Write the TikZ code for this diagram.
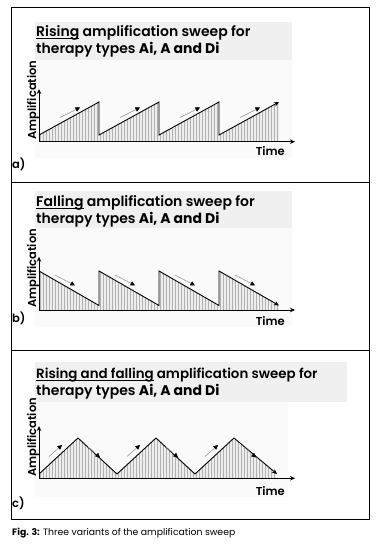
\documentclass[tikz,border=0pt]{standalone}
\usepackage{fontspec}
\IfFontExistsTF{Poppins SemiBold}
  {\setmainfont{Poppins}[UprightFont=* Medium, BoldFont=* SemiBold]
   \newfontfamily\headfont{Poppins}[UprightFont=* SemiBold, BoldFont=* Bold]}
  {\setmainfont{Poppins}
   \newfontfamily\headfont{Poppins}}
\newfontfamily\capfont{Poppins}
\usetikzlibrary{arrows.meta}

% underline with a rule of our own
\newcommand\ulword[1]{\setbox0\hbox{#1}\rlap{\rule[-2.4pt]{\wd0}{1pt}}\box0\relax}

\tikzset{
  frame/.style={line width=0.9pt},
  titlebg/.style={fill=black!6},
  plotbg/.style={fill=black!2},
  axis/.style={line width=0.9pt, -{Stealth[length=5pt, width=4.5pt]}},
  sweep/.style={line width=0.9pt, -{Stealth[length=5pt, width=4.5pt]}},
  hint/.style={black!45, line width=0.5pt, -{Triangle[black, length=4.5pt, width=4.5pt]}},
  hatchbg/.style={fill=black!7},
  hatch/.style={black!30, line width=0.9pt},
  title/.style={anchor=base west, inner sep=0pt, font=\headfont\fontsize{14}{16}\selectfont},
  ylab/.style={rotate=90, anchor=base, inner sep=0pt, font=\fontsize{11.5}{13}\selectfont\bfseries},
  xlab/.style={anchor=base east, inner sep=0pt, font=\fontsize{11.5}{13}\selectfont\bfseries},
  tag/.style={anchor=base west, inner sep=0pt, font=\fontsize{11.5}{13}\selectfont\bfseries}
}

\begin{document}
\begin{tikzpicture}[x=1pt, y=-1pt]
  \useasboundingbox (0,0) rectangle (380,546);
  \fill[white] (0,0) rectangle (380,546);
  % frames
  \draw[frame] (11,7) rectangle (369,519);
  \draw[frame] (11,182) -- (369,182);
  \draw[frame] (11,350) -- (369,350);

  % ---- a) rising ----
  \fill[plotbg] (35,60) rectangle (292,158);
  \fill[titlebg] (35,22) rectangle (292,60);
  \node[title] (ta1) at (36,36.7) {\ulword{Rising} amplification sweep for};
  \node[title] (ta2) at (36,53.3) {therapy types \textbf{Ai, A and Di}};
  \begin{scope}
    \clip (39,141.7) -- (39,135) -- (99,102) -- (99,135) -- (159,102) -- (159,135)
      -- (219,102) -- (219,135) -- (279,102) -- (279,141.7) -- cycle;
    \fill[hatchbg] (39,90) rectangle (280,142);
    \foreach \x in {40,43,...,280} \draw[hatch] (\x,90) -- (\x,142);
  \end{scope}
  \coordinate (Oa) at (39,141.7); %origin
  \coordinate (Ya) at (39,89); %y-axis top
  \coordinate (Xa) at (295,141.7); %x-axis end
  \draw[axis] (Oa) -- (Ya);
  \draw[axis] (Oa) -- (Xa);
  \draw[sweep] (39,135) -- (99,102) -- (99,135) -- (159,102) -- (159,135)
    -- (219,102) -- (219,135) -- (279,102);
  \foreach \k in {0,1,2,3}
    \draw[hint] ({60+60*\k},117.5) -- ({80+60*\k},107.5);
  \node[ylab] (ya) at (36,100) {Amplification};
  \node[xlab] (xa) at (285,155) {Time};
  \node[tag] (la) at (12,168) {a)};

  % ---- b) falling ----
  \fill[plotbg] (35,228) rectangle (292,327);
  \fill[titlebg] (35,191) rectangle (292,228);
  \node[title] (tb1) at (36,206.7) {\ulword{Falling} amplification sweep for};
  \node[title] (tb2) at (36,223.3) {therapy types \textbf{Ai, A and Di}};
  \begin{scope}
    \clip (39,310) -- (39,271) -- (99,305.5) -- (99,271) -- (159,305.5) -- (159,271)
      -- (219,305.5) -- (219,271) -- (279,305.5) -- (279,310) -- cycle;
    \fill[hatchbg] (39,260) rectangle (280,311);
    \foreach \x in {40,43,...,280} \draw[hatch] (\x,260) -- (\x,311);
  \end{scope}
  \coordinate (Ob) at (39,310); %origin
  \coordinate (Yb) at (39,256.7); %y-axis top
  \coordinate (Xb) at (295,310); %x-axis end
  \draw[axis] (Ob) -- (Yb);
  \draw[axis] (Ob) -- (Xb);
  \draw[sweep] (39,271) -- (99,305.5) -- (99,271) -- (159,305.5) -- (159,271)
    -- (219,305.5) -- (219,271) -- (279,305.5);
  \foreach \k in {0,1,2,3}
    \draw[hint] ({55+60*\k},275) -- ({75+60*\k},285.5);
  \node[ylab] (yb) at (36,268.5) {Amplification};
  \node[xlab] (xb) at (285,325) {Time};
  \node[tag] (lb) at (12,322) {b)};

  % ---- c) rising and falling ----
  \fill[plotbg] (35,402) rectangle (288,497);
  \fill[titlebg] (35,362) rectangle (347,402);
  \node[title, font=\headfont\fontsize{13.4}{16}\selectfont] (tc1) at (36,378.3)
    {\ulword{Rising and falling} amplification sweep for};
  \node[title] (tc2) at (36,395) {therapy types \textbf{Ai, A and Di}};
  \begin{scope}
    \clip (39,478.3) -- (39,474) -- (78,438) -- (117,474) -- (156,438) -- (195,474)
      -- (234,438) -- (276,474) -- (276,478.3) -- cycle;
    \fill[hatchbg] (39,430) rectangle (280,479);
    \foreach \x in {40,43,...,280} \draw[hatch] (\x,430) -- (\x,479);
  \end{scope}
  \coordinate (Oc) at (39,478.3); %origin
  \coordinate (Yc) at (39,426); %y-axis top
  \coordinate (Xc) at (295,478.3); %x-axis end
  \draw[axis] (Oc) -- (Yc);
  \draw[axis] (Oc) -- (Xc);
  \draw[sweep] (39,474) -- (78,438) -- (117,474) -- (156,438) -- (195,474)
    -- (234,438) -- (277,474);
  \foreach \k in {0,1,2} {
    \draw[hint] ({49+78*\k},456.5) -- ({62+78*\k},445);
    \draw[hint] ({88+78*\k},447) -- ({100+78*\k},457.5);
  }
  \node[ylab] (yc) at (36,437.5) {Amplification};
  \node[xlab] (xc) at (285,495) {Time};
  \node[tag] (lc) at (12,507) {c)};

  % caption
  \node[anchor=base west, inner sep=0pt, font=\capfont\fontsize{9.3}{11}\selectfont] (cap) at (12,535)
    {\textbf{Fig. 3:} Three variants of the amplification sweep};
\end{tikzpicture}
\end{document}
